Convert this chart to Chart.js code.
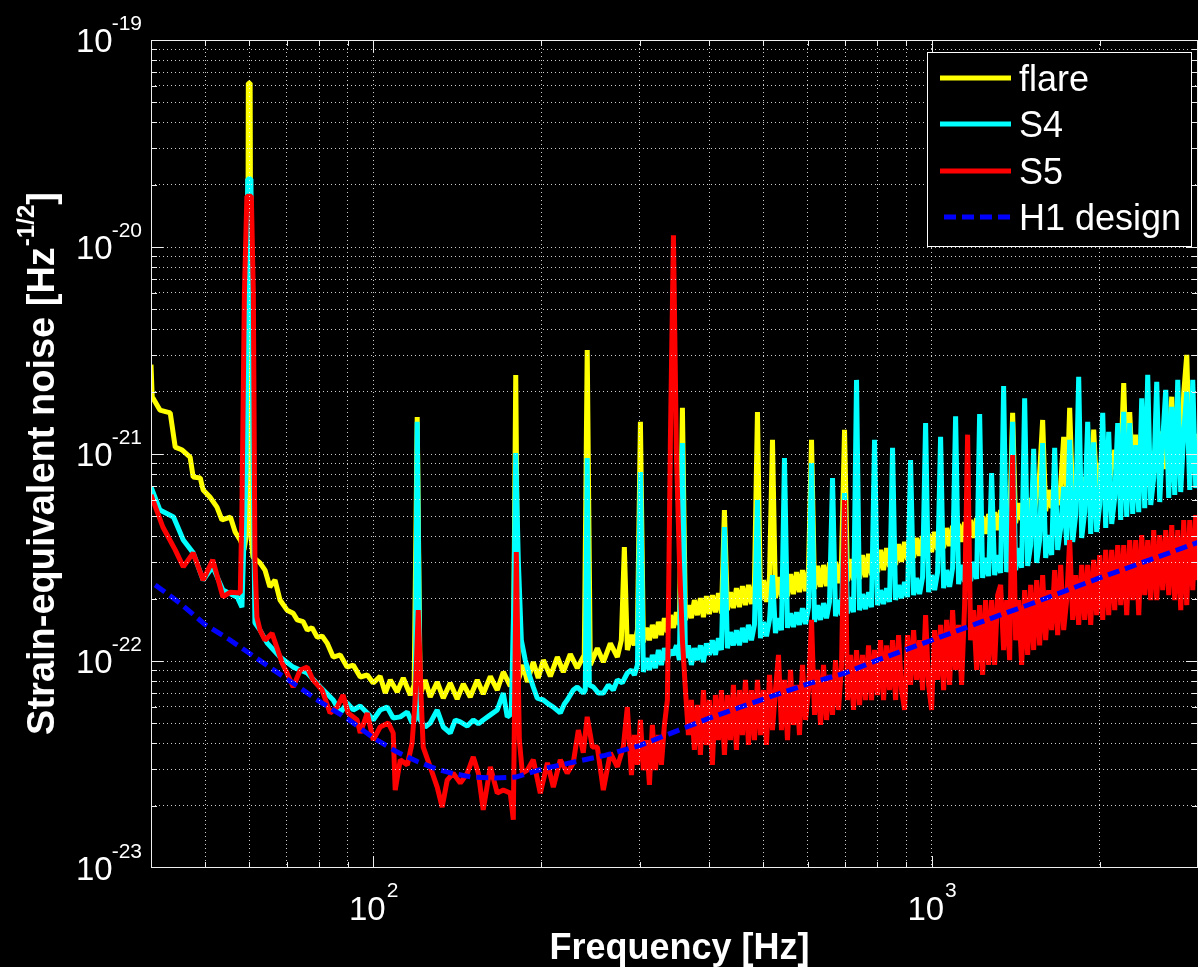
<!DOCTYPE html>
<html>
<head>
<meta charset="utf-8">
<title>Strain-equivalent noise</title>
<script src="https://cdn.jsdelivr.net/npm/chart.js@4.4.1/dist/chart.umd.min.js"></script>
<style>
  html, body { margin: 0; padding: 0; background: #000; }
  canvas { display: block; }
</style>
</head>
<body>
<canvas id="noiseChart" width="1198" height="967"></canvas>
<script>
// Low-frequency part of each spectrum: [frequency in Hz, strain noise in 1e-22 / sqrt(Hz)]
const flareLow = [
  [40.0, 27.0], [40.2, 18.9], [41.5, 16.3], [43.3, 15.8], [44.2, 10.8], [45.5, 10.45], [47.0, 9.67], [47.6, 7.74],
  [49.0, 7.66], [49.6, 6.70], [51.0, 6.20], [52.5, 5.54], [53.6, 4.80], [55.5, 4.96], [56.6, 4.20], [57.8, 3.84],
  [58.7, 3.44], [59.5, 4.29], [59.75, 620], [60.2, 620], [60.5, 3.84], [60.9, 3.18], [62.7, 2.98], [64.0, 2.75],
  [65.3, 2.28], [66.7, 2.46], [68.1, 1.97], [70.1, 1.76], [71.9, 1.70], [73.1, 1.58], [74.9, 1.55], [76.2, 1.41],
  [77.7, 1.45], [79.4, 1.30], [81.0, 1.32], [82.7, 1.22], [84.8, 1.045], [87.3, 1.07], [89.8, 0.934], [92.1, 0.955],
  [94.8, 0.837], [97.6, 0.856], [100, 0.783], [102.9, 0.843], [105.1, 0.700], [107.3, 0.810], [110.4, 0.708], [113.2, 0.828],
  [116.5, 0.685], [118.4, 0.766], [119.9, 15.1], [121.4, 0.685], [123.9, 0.810], [126.5, 0.670], [130.2, 0.792], [133.5, 0.662],
  [137.4, 0.783], [141.4, 0.655], [145.0, 0.775], [149.2, 0.670], [153.6, 0.810], [157.4, 0.693], [162.1, 0.843], [166.8, 0.724],
  [171.0, 0.885], [176.0, 0.757], [178.2, 0.856], [180.0, 24.1], [181.9, 0.810], [185.7, 0.957], [188.8, 0.792], [193.5, 0.988],
  [197.5, 0.828], [201.7, 1.01], [207.6, 0.843], [213.7, 1.045], [219.0, 0.885], [225.4, 1.08], [232.0, 0.924], [238.8, 1.07],
  [241.7, 31.8], [244.8, 0.957], [252.0, 1.153], [258.3, 0.988], [265.9, 1.218], [273.7, 1.045], [278.2, 1.26], [281.7, 3.55],
  [285.2, 1.13]
];

const s4Low = [
  [40.0, 6.93], [41.5, 5.36], [43.9, 4.96], [45.7, 3.84], [47.6, 3.33], [49.6, 2.46], [51.6, 2.85], [53.8, 2.20],
  [57.1, 2.035], [58.2, 1.82], [59.2, 8.37], [59.6, 213], [60.4, 213], [60.9, 10.45], [61.4, 1.53], [62.7, 1.41],
  [64.6, 1.22], [68.1, 1.045], [71.9, 0.934], [76.2, 0.875], [80.4, 0.749], [84.8, 0.648], [87.3, 0.561], [89.8, 0.627],
  [92.1, 0.580], [94.8, 0.606], [97.6, 0.561], [100, 0.519], [102.9, 0.580], [105.9, 0.599], [108.6, 0.531], [111.8, 0.537],
  [115.1, 0.567], [117.4, 0.502], [118.9, 0.519], [119.9, 14.3], [121.4, 0.519], [123.9, 0.480], [126.5, 0.502], [130.2, 0.580],
  [133.5, 0.480], [137.4, 0.449], [140.3, 0.519], [143.2, 0.508], [147.4, 0.485], [151.1, 0.519], [154.3, 0.497], [157.4, 0.519],
  [162.1, 0.549], [166.8, 0.580], [171.0, 0.700], [173.8, 0.537], [176.7, 0.555], [178.6, 1.97], [180.0, 10.1], [181.9, 3.08],
  [184.2, 1.26], [187.2, 1.01], [190.4, 0.856], [193.5, 0.749], [196.7, 0.662], [201.7, 0.648], [205.9, 0.620], [210.2, 0.599],
  [216.3, 0.561], [219.9, 0.620], [222.6, 0.648], [228.2, 0.724], [232.0, 0.749], [237.8, 0.700], [239.8, 0.724], [241.7, 9.56],
  [243.8, 0.766], [247.9, 0.749], [253.1, 0.700], [258.3, 0.700], [263.7, 0.766], [269.2, 0.724], [273.7, 0.810], [279.3, 0.783],
  [285.2, 0.875]
];

const s5Low = [
  [40.0, 6.34], [42.0, 4.44], [44.2, 3.44], [45.7, 2.85], [47.6, 3.33], [49.6, 2.46], [51.6, 3.08], [53.8, 2.04],
  [55.5, 2.15], [57.8, 2.13], [58.2, 5.36], [58.8, 60], [59.4, 176], [60.5, 176], [61.0, 60], [61.4, 3.08],
  [61.9, 1.63], [62.7, 1.41], [64.0, 1.26], [65.9, 1.36], [67.2, 1.165], [68.7, 0.977], [70.1, 0.875], [71.9, 0.749],
  [74.0, 0.905], [76.2, 0.934], [78.0, 0.810], [81.0, 0.724], [83.7, 0.561], [86.2, 0.599], [88.3, 0.685], [90.2, 0.561],
  [93.6, 0.519], [94.8, 0.449], [97.6, 0.561], [100, 0.415], [102.9, 0.480], [106.4, 0.502], [108.6, 0.449], [109.5, 0.238],
  [111.8, 0.333], [115.1, 0.315], [117.4, 0.401], [118.9, 0.648], [120.4, 1.76], [121.9, 0.648], [122.9, 0.384], [126.5, 0.308],
  [130.2, 0.246], [132.9, 0.197], [135.7, 0.266], [139.1, 0.287], [143.2, 0.257], [147.4, 0.287], [151.1, 0.344], [154.3, 0.287],
  [157.4, 0.191], [162.1, 0.308], [166.8, 0.230], [171.0, 0.238], [176.0, 0.230], [178.2, 0.171], [180.4, 3.36], [182.7, 0.415],
  [185.0, 0.287], [188.8, 0.297], [193.5, 0.333], [199.2, 0.230], [205.1, 0.322], [210.2, 0.246], [216.3, 0.333], [222.6, 0.287],
  [228.2, 0.322], [233.0, 0.464], [237.8, 0.360], [241.7, 0.537], [246.9, 0.384], [252.0, 0.384], [258.3, 0.238], [265.9, 0.360],
  [273.7, 0.308], [280.5, 0.384], [285.2, 0.599]
];

// Dense high-frequency part: shared frequency bins [Hz] and values per spectrum [1e-22 / sqrt(Hz)]
const denseHz = [
  290.0, 293.6, 297.3, 301.0, 304.7, 308.5, 312.4, 316.2, 320.2, 324.2,
  328.2, 332.3, 336.4, 340.6, 344.9, 349.2, 353.5, 357.9, 362.4, 366.9,
  371.4, 376.0, 380.7, 385.5, 390.3, 395.1, 400.0, 405.0, 410.1, 415.2,
  420.4, 425.6, 430.9, 436.3, 441.7, 447.2, 452.8, 458.4, 464.2, 469.9,
  475.8, 481.7, 487.7, 493.8, 500.0, 506.2, 512.5, 518.9, 525.3, 531.9,
  538.5, 545.2, 552.0, 558.9, 565.8, 572.9, 580.0, 587.2, 594.6, 602.0,
  609.5, 617.1, 624.8, 632.6, 640.4, 648.4, 656.5, 664.7, 672.9, 681.3,
  689.8, 698.4, 707.1, 715.9, 724.8, 733.8, 743.0, 752.2, 761.6, 771.1,
  780.7, 790.4, 800.3, 810.2, 820.3, 830.5, 840.9, 851.3, 862.0, 872.7,
  883.6, 894.6, 905.7, 917.0, 928.5, 940.0, 951.7, 963.6, 975.6, 987.7,
  1000, 1012.5, 1025.1, 1037.8, 1050.8, 1063.9, 1077.1, 1090.5, 1104.1, 1117.8,
  1131.8, 1145.9, 1160.2, 1174.6, 1189.3, 1204.1, 1219.1, 1234.3, 1249.6, 1265.2,
  1280.9, 1296.9, 1313.0, 1329.4, 1345.9, 1362.7, 1379.7, 1396.8, 1414.2, 1431.8,
  1449.7, 1467.8, 1486.1, 1504.6, 1523.3, 1542.3, 1561.5, 1580.9, 1600.6, 1620.5,
  1640.8, 1661.2, 1681.9, 1702.9, 1724.1, 1745.6, 1767.3, 1789.3, 1811.6, 1834.2,
  1857.0, 1880.1, 1903.6, 1927.3, 1951.3, 1975.6, 2000.2, 2025.1, 2050.3, 2075.8,
  2101.8, 2128.0, 2154.5, 2181.3, 2208.5, 2236.0, 2263.8, 2292.0, 2320.6, 2349.5,
  2378.7, 2408.3, 2438.3, 2468.7, 2499.4, 2530.5, 2562.1, 2594.0, 2626.3, 2659.0,
  2692.2, 2725.7, 2759.7, 2794.0, 2828.8, 2864.1, 2899.8, 2935.9, 2972.4, 3000
];

const flareDense = [
  1.335, 1.19, 1.41, 14.3, 1.232, 1.446, 1.26, 1.495, 1.29, 1.545,
  1.335, 1.61, 1.379, 1.665, 1.446, 1.72, 1.495, 16.7, 1.58, 1.86,
  1.61, 1.97, 1.665, 2.01, 1.63, 2.057, 1.684, 2.08, 1.72, 2.128,
  1.70, 5.36, 1.76, 2.15, 1.80, 2.25, 1.82, 2.30, 1.86, 2.33,
  1.885, 2.38, 15.95, 1.97, 2.46, 1.93, 2.52, 11.7, 2.01, 2.54,
  2.035, 2.60, 2.057, 2.63, 2.105, 2.69, 2.15, 2.75, 2.176, 2.79,
  11.7, 2.23, 2.88, 2.28, 2.91, 2.30, 2.98, 2.35, 3.01, 2.38,
  3.05, 13.1, 2.43, 3.11, 2.46, 3.18, 2.49, 3.25, 2.54, 3.29,
  2.60, 3.36, 2.69, 3.44, 2.75, 3.51, 2.85, 3.59, 2.91, 3.67,
  3.01, 3.76, 3.08, 3.84, 3.15, 3.93, 3.22, 4.01, 3.29, 4.11,
  3.36, 4.20, 3.44, 4.29, 3.51, 4.39, 3.59, 4.49, 3.67, 4.59,
  3.76, 4.69, 3.84, 4.80, 3.93, 4.90, 4.01, 5.01, 4.11, 5.13,
  4.20, 5.24, 4.29, 5.36, 4.39, 5.48, 4.49, 15.8, 4.64, 5.79,
  4.80, 5.99, 4.90, 6.13, 5.01, 6.34, 8.09, 14.6, 5.30, 6.70,
  5.48, 6.85, 5.67, 7.08, 12.1, 5.86, 16.7, 5.99, 7.49, 6.13,
  7.74, 6.27, 7.91, 6.41, 13.1, 6.63, 9.04, 6.78, 8.37, 6.85,
  8.75, 10.45, 7.17, 9.04, 22.0, 7.41, 15.95, 7.57, 12.4, 7.66,
  9.89, 7.83, 10.1, 8.01, 10.33, 8.18, 10.6, 12.8, 8.46, 10.94,
  18.9, 8.75, 11.3, 8.95, 19.7, 30.1, 9.25, 12.0, 9.46, 12.5
];

const s4Dense = [
  0.905, 0.856, 0.957, 8.18, 0.885, 1.034, 0.905, 1.07, 0.924, 1.13,
  0.957, 1.153, 1.01, 1.13, 1.07, 1.19, 1.01, 11.3, 1.034, 1.19,
  0.957, 1.153, 1.01, 1.19, 0.988, 1.218, 1.07, 1.26, 1.07, 1.29,
  1.13, 4.44, 1.153, 1.379, 1.19, 1.41, 1.19, 1.446, 1.232, 1.495,
  1.26, 1.495, 5.99, 1.29, 1.545, 1.318, 1.58, 2.60, 1.364, 1.61,
  1.41, 9.56, 1.446, 1.70, 1.46, 1.72, 1.495, 1.80, 1.51, 1.82,
  9.04, 1.545, 1.86, 1.58, 1.905, 1.61, 1.93, 7.66, 1.646, 1.97,
  1.665, 6.48, 1.70, 2.035, 1.72, 22.8, 1.76, 2.105, 1.78, 2.15,
  1.82, 11.7, 1.86, 2.20, 1.885, 2.25, 1.93, 10.7, 1.97, 2.33,
  2.01, 2.41, 2.035, 9.35, 2.08, 2.52, 2.105, 2.54, 14.1, 2.15,
  2.60, 2.20, 2.69, 12.1, 2.25, 2.75, 2.28, 2.82, 15.2, 2.35,
  2.91, 2.41, 2.98, 2.43, 3.01, 2.49, 15.6, 2.52, 3.15, 2.57,
  8.09, 2.60, 3.25, 2.66, 21.3, 2.69, 3.36, 14.3, 2.75, 3.51,
  2.82, 18.6, 2.88, 3.63, 10.6, 2.98, 3.84, 11.3, 3.15, 4.06,
  3.25, 10.7, 3.44, 4.39, 6.93, 3.63, 11.7, 3.76, 5.07, 23.6,
  3.93, 5.24, 14.3, 4.11, 11.4, 4.20, 5.67, 15.8, 4.39, 12.8,
  4.59, 6.13, 14.1, 4.80, 16.0, 4.96, 14.1, 5.13, 11.05, 5.24,
  18.6, 5.48, 24.1, 5.67, 7.66, 22.3, 5.86, 11.7, 20.4, 6.13,
  16.9, 6.34, 22.8, 6.55, 12.7, 19.95, 6.70, 22.8, 6.85, 8.37
];

const s5Dense = [
  0.281, 0.439, 0.315, 0.519, 0.297, 0.415, 0.252, 0.491, 0.297, 0.439,
  0.315, 0.491, 0.648, 11.7, 114, 9.89, 3.08, 1.26, 0.724, 0.439,
  0.648, 0.372, 0.613, 0.352, 0.724, 0.393, 0.648, 0.315, 0.685, 0.415,
  0.724, 0.352, 0.685, 0.415, 0.766, 0.372, 0.724, 0.439, 0.810, 0.393,
  0.724, 0.415, 0.810, 0.439, 0.724, 0.393, 0.856, 0.464, 0.724, 1.07,
  0.464, 0.810, 0.415, 0.905, 0.491, 0.766, 0.439, 0.957, 0.519, 0.724,
  1.58, 0.549, 0.905, 0.491, 0.957, 0.519, 0.856, 0.549, 1.01, 0.580,
  0.957, 5.99, 0.648, 1.07, 0.580, 1.13, 0.613, 1.07, 0.648, 1.19,
  0.648, 1.13, 0.685, 1.26, 0.648, 1.19, 0.724, 1.26, 0.648, 1.335,
  0.724, 0.580, 1.335, 0.766, 1.41, 0.810, 1.26, 0.724, 1.665, 0.766,
  0.580, 1.41, 0.810, 1.495, 0.724, 1.58, 0.766, 1.76, 0.905, 1.495,
  0.766, 1.86, 12.4, 1.26, 1.76, 0.905, 1.86, 0.856, 1.97, 0.957,
  1.97, 0.957, 2.08, 2.33, 1.13, 1.97, 1.01, 9.89, 1.26, 1.97,
  0.957, 2.20, 1.07, 2.33, 1.13, 2.46, 1.19, 2.60, 1.26, 2.20,
  1.41, 2.75, 1.335, 2.91, 1.41, 1.97, 3.84, 1.58, 2.60, 1.495,
  2.91, 1.58, 2.91, 1.495, 3.08, 1.665, 3.25, 1.58, 3.44, 1.665,
  3.44, 1.76, 3.63, 1.86, 3.63, 1.665, 3.84, 1.97, 3.84, 1.665,
  4.06, 2.08, 3.84, 1.97, 4.29, 1.97, 4.06, 2.20, 4.29, 2.08,
  4.54, 1.97, 4.29, 1.76, 4.80, 1.86, 4.80, 2.20, 5.07, 2.46
];

// smooth design sensitivity curve
const h1Design = [
  [40.7, 2.33], [45, 1.91], [50, 1.50], [55, 1.28], [60, 1.09], [65, 0.94], [70, 0.82], [80, 0.64],
  [90, 0.525], [100, 0.426], [110, 0.365], [120, 0.327], [130, 0.300], [140, 0.285], [150, 0.275], [165, 0.272],
  [180, 0.275], [200, 0.300], [230, 0.326], [260, 0.350], [300, 0.390], [350, 0.460], [400, 0.530], [500, 0.655],
  [600, 0.775], [700, 0.875], [800, 1.01], [1000, 1.26], [1200, 1.51], [1500, 1.88], [2000, 2.52], [2500, 3.13],
  [3000, 3.74]
];

const seriesLabels = ['flare', 'S4', 'S5', 'H1 design'];

// grid positions and decade labels
const xGrid = [50, 60, 70, 80, 90, 100, 200, 300, 400, 500, 600, 700, 800, 900, 1000, 2000];
const yGrid = [
  2e-23, 3e-23, 4e-23, 5e-23, 6e-23, 7e-23, 8e-23, 9e-23, 1e-22,
  2e-22, 3e-22, 4e-22, 5e-22, 6e-22, 7e-22, 8e-22, 9e-22, 1e-21,
  2e-21, 3e-21, 4e-21, 5e-21, 6e-21, 7e-21, 8e-21, 9e-21, 1e-20,
  2e-20, 3e-20, 4e-20, 5e-20, 6e-20, 7e-20, 8e-20, 9e-20
];
const xDecades = [100, 1000];
const yDecades = [1e-23, 1e-22, 1e-21, 1e-20, 1e-19];

const FONT = '"Liberation Sans", Arial, Helvetica, sans-serif';
const UNIT = 1e-22;

const toPoints = rows => rows.map(([hz, s]) => ({ x: hz, y: s * UNIT }));
const spectrum = (low, dense) =>
  toPoints(low).concat(denseHz.map((hz, i) => ({ x: hz, y: dense[i] * UNIT })));

function setTicks(values, decades) {
  return scale => {
    scale.ticks = values.map(v => ({ value: v, major: decades.includes(v) }));
  };
}

// black background, boxed axes with inward ticks, power-of-ten labels, legend
const frame = {
  id: 'frame',
  beforeDraw(chart) {
    const { ctx, width, height } = chart;
    ctx.save();
    ctx.fillStyle = '#000';
    ctx.fillRect(0, 0, width, height);
    ctx.restore();
  },
  afterDraw(chart) {
    const { ctx, chartArea: a } = chart;
    const xs = chart.scales.x, ys = chart.scales.y;
    ctx.save();

    // tick marks
    ctx.strokeStyle = '#eeeeee';
    ctx.lineWidth = 1;
    ctx.beginPath();
    xs.ticks.forEach(t => {
      const p = Math.round(xs.getPixelForValue(t.value)) + 0.5;
      const len = t.major ? 12 : 6;
      ctx.moveTo(p, a.bottom); ctx.lineTo(p, a.bottom - len);
      ctx.moveTo(p, a.top); ctx.lineTo(p, a.top + len);
    });
    ys.ticks.forEach(t => {
      const p = Math.round(ys.getPixelForValue(t.value)) + 0.5;
      const len = t.major ? 12 : 6;
      ctx.moveTo(a.left, p); ctx.lineTo(a.left + len, p);
      ctx.moveTo(a.right, p); ctx.lineTo(a.right - len, p);
    });
    ctx.stroke();
    ctx.strokeRect(a.left + 0.5, a.top + 0.5, a.right - a.left - 1, a.bottom - a.top - 1);

    // decade labels 10^n
    ctx.fillStyle = '#ffffff';
    ctx.textBaseline = 'alphabetic';
    ctx.textAlign = 'left';
    const baseFont = '33px ' + FONT, expFont = '21px ' + FONT;
    yDecades.forEach(v => {
      const p = ys.getPixelForValue(v);
      const exp = String(Math.round(Math.log10(v)));
      ctx.font = expFont;
      const we = ctx.measureText(exp).width;
      ctx.font = baseFont;
      const wb = ctx.measureText('10').width;
      const right = a.left - 9;
      ctx.fillText('10', right - we - wb + 1, p + 12);
      ctx.font = expFont;
      ctx.fillText(exp, right - we, p - 10);
    });
    xDecades.forEach(v => {
      const p = xs.getPixelForValue(v);
      const exp = String(Math.round(Math.log10(v)));
      ctx.font = expFont;
      const we = ctx.measureText(exp).width;
      ctx.font = baseFont;
      const wb = ctx.measureText('10').width;
      const left = p - (wb + we) / 2;
      ctx.fillText('10', left, a.bottom + 52);
      ctx.font = expFont;
      ctx.fillText(exp, left + wb + 1, a.bottom + 29);
    });

    // axis titles
    ctx.font = 'bold 36px ' + FONT;
    ctx.textAlign = 'center';
    ctx.fillText('Frequency [Hz]', (a.left + a.right) / 2 + 5, a.bottom + 91);

    ctx.save();
    ctx.translate(54, (a.top + a.bottom) / 2 + 10);
    ctx.rotate(-Math.PI / 2);
    ctx.textAlign = 'left';
    const main = 'Strain-equivalent noise [Hz', sup = '-1/2', tail = ']';
    const titleFont = 'bold 38px ' + FONT, supFont = 'bold 24px ' + FONT;
    ctx.font = titleFont;
    const w1 = ctx.measureText(main).width, w3 = ctx.measureText(tail).width;
    ctx.font = supFont;
    const w2 = ctx.measureText(sup).width;
    const x0 = -(w1 + w2 + w3) / 2;
    ctx.font = titleFont;
    ctx.fillText(main, x0, 0);
    ctx.fillText(tail, x0 + w1 + w2 + 1, 0);
    ctx.font = supFont;
    ctx.fillText(sup, x0 + w1 + 1, -20);
    ctx.restore();

    // legend
    const lx = a.right - 271, ly = a.top + 12, lw = 265, lh = 195;
    ctx.fillStyle = '#000';
    ctx.fillRect(lx, ly, lw, lh);
    ctx.strokeStyle = '#ffffff';
    ctx.lineWidth = 1;
    ctx.strokeRect(lx + 0.5, ly + 0.5, lw - 1, lh - 1);
    ctx.font = '36px ' + FONT;
    ctx.textAlign = 'left';
    chart.data.datasets.forEach((ds, i) => {
      const yy = Math.round(ly + 26 + i * 46.3);
      ctx.strokeStyle = ds.borderColor;
      ctx.lineWidth = 5;
      ctx.setLineDash(ds.borderDash || []);
      ctx.beginPath();
      ctx.moveTo(lx + (ds.borderDash ? 17 : 13), yy);
      ctx.lineTo(lx + 84, yy);
      ctx.stroke();
      ctx.setLineDash([]);
      ctx.fillStyle = '#ffffff';
      ctx.fillText(ds.label, lx + 92, yy + 13);
    });

    ctx.restore();
  }
};

const gridStyle = {
  color: 'rgba(255,255,255,0.8)',
  lineWidth: 1,
  drawTicks: false,
  z: 1
};

new Chart(document.getElementById('noiseChart'), {
  type: 'line',
  data: {
    datasets: [
      { label: seriesLabels[0], data: spectrum(flareLow, flareDense), borderColor: '#ffff00', order: 4 },
      { label: seriesLabels[1], data: spectrum(s4Low, s4Dense), borderColor: '#00ffff', order: 3 },
      { label: seriesLabels[2], data: spectrum(s5Low, s5Dense), borderColor: '#ff0000', order: 2 },
      { label: seriesLabels[3], data: toPoints(h1Design), borderColor: '#0000ff', borderDash: [12, 6], order: 1 }
    ]
  },
  options: {
    responsive: false,
    devicePixelRatio: 1,
    animation: false,
    layout: { padding: { left: 151, top: 40, right: 0, bottom: 99 } },
    elements: {
      point: { radius: 0 },
      line: { borderWidth: 5, tension: 0, borderJoinStyle: 'bevel', borderCapStyle: 'butt', fill: false }
    },
    plugins: {
      legend: { display: false },
      tooltip: { enabled: false }
    },
    scales: {
      x: {
        type: 'logarithmic',
        min: 40,
        max: 3000,
        afterBuildTicks: setTicks(xGrid, xDecades),
        ticks: { display: false },
        grid: gridStyle,
        border: { display: false, dash: [1, 3] }
      },
      y: {
        type: 'logarithmic',
        min: 1e-23,
        max: 1e-19,
        afterBuildTicks: setTicks(yGrid, yDecades),
        ticks: { display: false },
        grid: gridStyle,
        border: { display: false, dash: [1, 3] }
      }
    }
  },
  plugins: [frame]
});
</script>
</body>
</html>
